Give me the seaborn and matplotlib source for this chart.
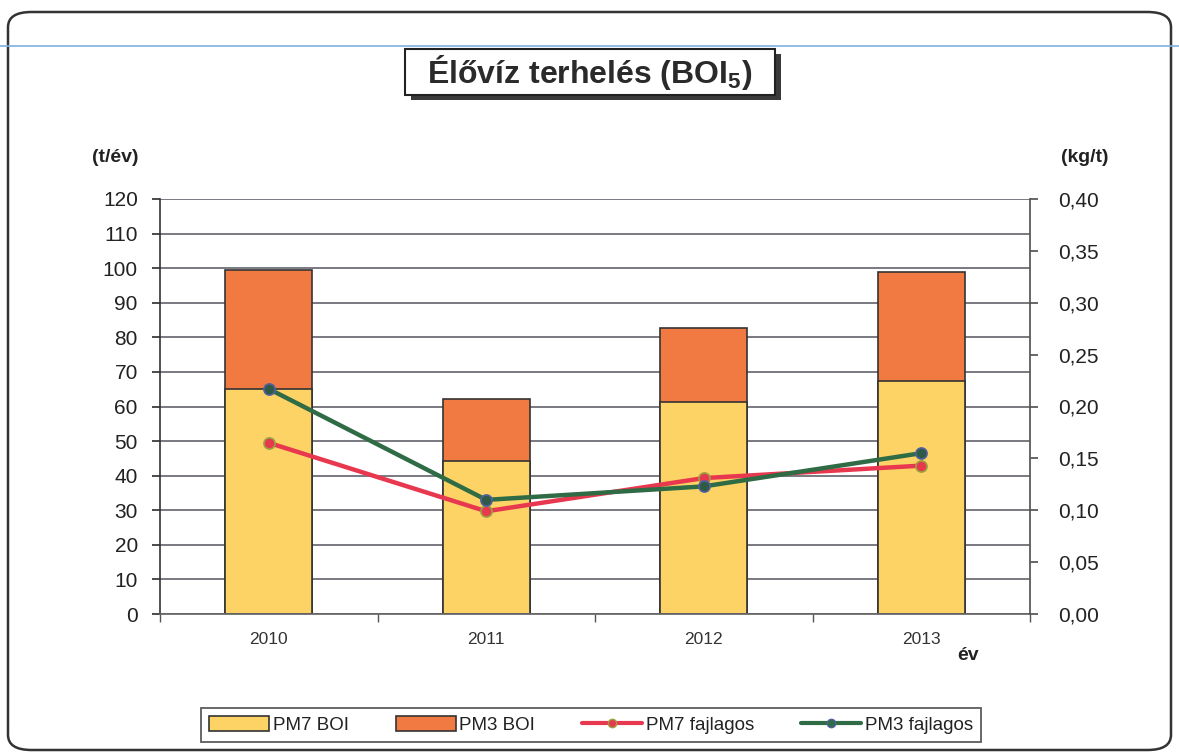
import numpy as np
import pandas as pd
import matplotlib
matplotlib.use("Agg")
import matplotlib.pyplot as plt
import seaborn as sns
from matplotlib.patches import Patch, FancyBboxPatch, Rectangle
from matplotlib.lines import Line2D
from matplotlib.ticker import FuncFormatter

# data
years = ["2010", "2011", "2012", "2013"]
pm7_boi = [65.0, 44.2, 61.3, 67.4]
pm3_boi = [34.5, 18.0, 21.4, 31.5]
pm7_fajlagos = [0.165, 0.099, 0.131, 0.143]
pm3_fajlagos = [0.217, 0.110, 0.123, 0.155]

left_ticks = list(range(0, 121, 10))
right_ticks = [0.0, 0.05, 0.10, 0.15, 0.20, 0.25, 0.30, 0.35, 0.40]

c_yellow = "#FDD365"
c_orange = "#F07A42"
c_red = "#E8384F"
c_green = "#2F6B45"
c_grid = "#55555F"

sns.set_theme(style="white")
plt.rcParams["font.family"] = ["Liberation Sans", "DejaVu Sans"]
plt.rcParams["mathtext.fontset"] = "custom"
plt.rcParams["mathtext.rm"] = "Liberation Sans:bold"
plt.rcParams["mathtext.bf"] = "Liberation Sans:bold"

df = pd.DataFrame({
    "year": years,
    "pm7": pm7_boi,
    "total": np.array(pm7_boi) + np.array(pm3_boi),
    "pm7_f": pm7_fajlagos,
    "pm3_f": pm3_fajlagos,
})

W, H = 1179, 756
fig = plt.figure(figsize=(W / 100, H / 100), dpi=100)
ax = fig.add_axes([160 / W, 1 - 614 / H, 870 / W, 415 / H])

# stacked bars: total (orange) then PM7 over it (yellow)
sns.barplot(data=df, x="year", y="total", color=c_orange, width=0.4,
            edgecolor="#333333", linewidth=1.2, saturation=1, ax=ax)
sns.barplot(data=df, x="year", y="pm7", color=c_yellow, width=0.4,
            edgecolor="#333333", linewidth=1.2, saturation=1, ax=ax)

ax.set_xlim(-0.5, 3.5)
ax.set_ylim(0, 120)
ax.set_yticks(left_ticks)
ax.set_axisbelow(True)
ax.yaxis.grid(True, color=c_grid, linewidth=1.1)
ax.xaxis.grid(False)
ax.set_xlabel("")
ax.set_ylabel("")
for s in ["top", "right"]:
    ax.spines[s].set_visible(False)
ax.spines["left"].set_color("#333333")
ax.spines["bottom"].set_color("#666666")
ax.spines["left"].set_linewidth(1.2)
ax.tick_params(axis="y", which="major", left=True, length=6, color="#333333",
               labelsize=15, labelcolor="#222222", pad=10)
ax.set_xticks([0, 1, 2, 3])
ax.set_xticklabels(years)
ax.set_xticks([-0.5, 0.5, 1.5, 2.5, 3.5], minor=True)
ax.tick_params(axis="x", which="major", bottom=False, labelsize=12.5,
               labelcolor="#333333", pad=7)
ax.tick_params(axis="x", which="minor", bottom=True, length=6, color="#555555")

ax2 = ax.twinx()
x = np.arange(len(years))
sns.lineplot(x=x, y=pm7_fajlagos, color=c_red, linewidth=3.2, marker="o",
             markersize=8, markeredgecolor="#9AA040", markeredgewidth=1.2, ax=ax2)
sns.lineplot(x=x, y=pm3_fajlagos, color=c_green, linewidth=3.2, marker="o",
             markersize=8, markerfacecolor="#2F5A45", markeredgecolor="#5060A0",
             markeredgewidth=1.2, ax=ax2)
ax2.set_ylim(0, 0.40)
ax2.set_yticks(right_ticks)
ax2.yaxis.set_major_formatter(FuncFormatter(lambda v, p: f"{v:.2f}".replace(".", ",")))
for s in ["top", "left", "bottom"]:
    ax2.spines[s].set_visible(False)
ax2.spines["right"].set_color("#555555")
ax2.tick_params(axis="y", right=True, length=6, color="#555555", labelsize=15,
                labelcolor="#222222", pad=14)
ax2.grid(False)

# axis captions
fig.text(115 / W, 1 - 158 / H, "(t/év)", fontsize=14, fontweight="bold",
         color="#222222", ha="center", va="center")
fig.text(1085 / W, 1 - 158 / H, "(kg/t)", fontsize=14, fontweight="bold",
         color="#222222", ha="center", va="center")
fig.text(968 / W, 1 - 655 / H, "év", fontsize=14, fontweight="bold",
         color="#222222", ha="center", va="center")

# title box with drop shadow
fig.patches.append(Rectangle((411 / W, 1 - 100 / H), 370 / W, 46 / H,
                             transform=fig.transFigure, facecolor="#3a3a3a",
                             edgecolor="none", zorder=1))
fig.patches.append(Rectangle((405 / W, 1 - 95 / H), 370 / W, 46 / H,
                             transform=fig.transFigure, facecolor="white",
                             edgecolor="#222222", linewidth=1.5, zorder=2))
fig.text(590 / W, 1 - 73 / H, "Élővíz terhelés (BOI$_5$)", fontsize=23,
         fontweight="bold", color="#2a2a2a", ha="center", va="center", zorder=3)

# legend
handles = [
    Patch(facecolor=c_yellow, edgecolor="#333333", linewidth=1.2),
    Patch(facecolor=c_orange, edgecolor="#333333", linewidth=1.2),
    Line2D([], [], color=c_red, linewidth=3, marker="o", markersize=6,
           markeredgecolor="#9AA040"),
    Line2D([], [], color=c_green, linewidth=3, marker="o", markersize=6,
           markeredgecolor="#5060A0"),
]
labels = ["PM7 BOI", "PM3 BOI", "PM7 fajlagos", "PM3 fajlagos"]
leg = fig.legend(handles, labels, loc="center", ncol=4,
                 bbox_to_anchor=(591 / W, 1 - 725 / H), fontsize=13.5,
                 frameon=True, fancybox=False, edgecolor="#333333",
                 handlelength=3.2, handleheight=0.8, columnspacing=2.5,
                 handletextpad=0.2, borderpad=0.45, labelspacing=0.3)
leg.get_frame().set_linewidth(1.3)
for t in leg.get_texts():
    t.set_color("#222222")

# outer rounded frame and scan line
frame = FancyBboxPatch((8 / W, 6 / H), 1163 / W, 738 / H,
                       boxstyle="round,pad=0,rounding_size=0.02",
                       transform=fig.transFigure, facecolor="none",
                       edgecolor="#333333", linewidth=1.8, zorder=-1)
fig.patches.append(frame)
fig.add_artist(Line2D([0, 1], [1 - 46 / H, 1 - 46 / H], color="#7EB0E0",
                      linewidth=1.2, transform=fig.transFigure))

fig.savefig("out.png", dpi=100)
